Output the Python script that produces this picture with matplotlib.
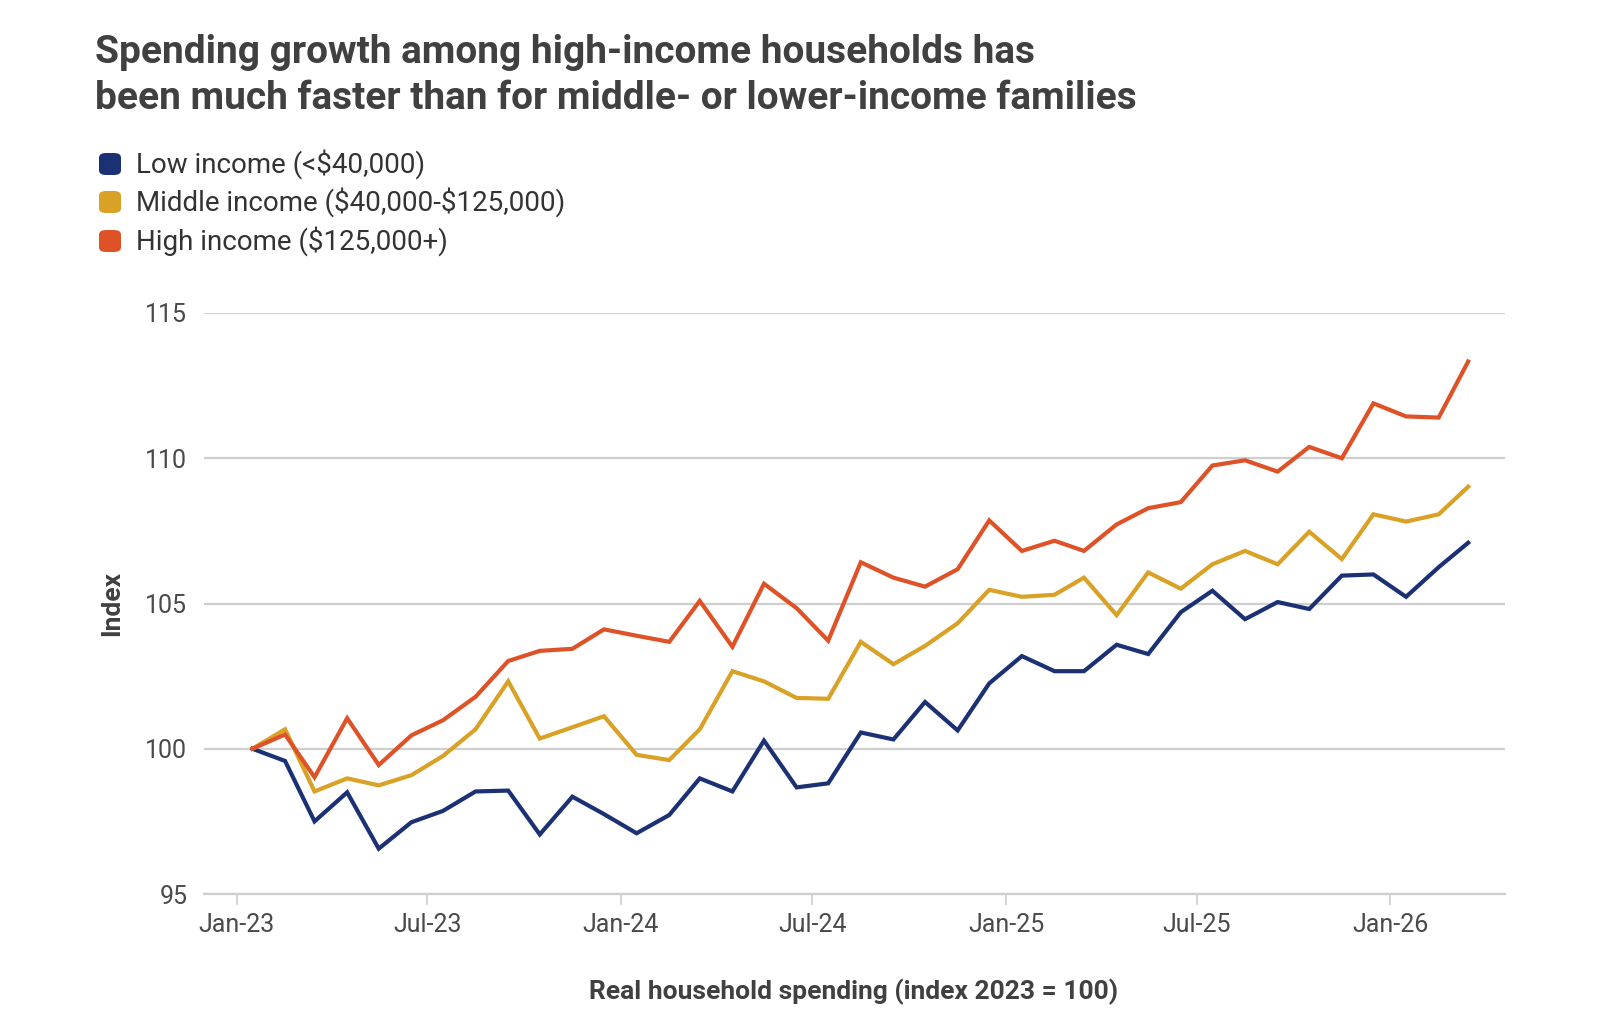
import numpy as np
import pandas as pd
import matplotlib
matplotlib.use("Agg")
import matplotlib.pyplot as plt
import matplotlib.dates as mdates
from matplotlib.patches import FancyBboxPatch

plt.rcParams['font.family'] = ['Roboto', 'DejaVu Sans']
plt.rcParams['text.parse_math'] = False

# monthly index, Jan-2023 .. Mar-2026 (2023 = 100)
dates = pd.date_range('2023-01-01', periods=39, freq='MS') + pd.Timedelta(days=15)

low_income = [100.0, 99.58, 97.5, 98.5, 96.56, 97.47, 97.86, 98.53, 98.56, 97.05,
              98.35, 97.75, 97.09, 97.72, 98.98, 98.53, 100.28, 98.67, 98.81, 100.56,
              100.32, 101.61, 100.63, 102.25, 103.19, 102.67, 102.67, 103.58, 103.26, 104.70,
              105.44, 104.46, 105.05, 104.81, 105.96, 106.0, 105.23, 106.25, 107.09]
middle_income = [100.0, 100.67, 98.53, 98.98, 98.74, 99.09, 99.75, 100.67, 102.32, 100.35,
                 100.74, 101.12, 99.79, 99.61, 100.67, 102.67, 102.32, 101.75, 101.72, 103.68,
                 102.91, 103.54, 104.32, 105.47, 105.23, 105.30, 105.89, 104.60, 106.07, 105.51,
                 106.35, 106.81, 106.35, 107.47, 106.53, 108.07, 107.82, 108.07, 109.02]
high_income = [100.0, 100.49, 99.02, 101.05, 99.44, 100.46, 100.98, 101.79, 103.02, 103.37,
               103.44, 104.11, 103.89, 103.68, 105.09, 103.51, 105.68, 104.84, 103.72, 106.42,
               105.89, 105.58, 106.18, 107.86, 106.81, 107.16, 106.81, 107.72, 108.28, 108.49,
               109.75, 109.93, 109.54, 110.39, 110.0, 111.89, 111.44, 111.40, 113.33]

series_names = ['Low income (<$40,000)', 'Middle income ($40,000-$125,000)', 'High income ($125,000+)']
colors = ['#1b3174', '#d9a125', '#de5228']

tick_dates = pd.date_range('2023-01-01', '2026-01-01', freq='6MS')
tick_labels = ['Jan-23', 'Jul-23', 'Jan-24', 'Jul-24', 'Jan-25', 'Jul-25', 'Jan-26']

W, H = 1600, 1023
fig = plt.figure(figsize=(W / 100, H / 100), dpi=100)
fig.patch.set_facecolor('white')
ax = fig.add_axes([204 / W, 1 - 894 / H, (1505 - 204) / W, (894 - 313) / H])

for vals, c in zip([low_income, middle_income, high_income], colors):
    ax.plot(dates, vals, color=c, lw=3.0, solid_joinstyle='miter', zorder=3)

ax.set_ylim(95, 115)
ax.set_yticks([95, 100, 105, 110, 115])
ax.set_xlim(pd.Timestamp('2022-12-01'), pd.Timestamp('2026-04-20'))
ax.set_xticks(tick_dates)
ax.set_xticklabels(tick_labels)

ax.grid(axis='y', color='#cfcfcf', lw=1.6, zorder=1)
ax.set_axisbelow(True)
for s in ['top', 'right', 'left']:
    ax.spines[s].set_visible(False)
ax.spines['bottom'].set_color('#cfcfcf')
ax.spines['bottom'].set_linewidth(1.6)
ax.tick_params(axis='y', length=0, pad=12, labelsize=18, labelcolor='#4a4a4a')
ax.tick_params(axis='x', length=8, width=1.2, color='#cfcfcf', pad=6,
               labelsize=18, labelcolor='#4a4a4a')

fig.text(112 / W, 1 - 603 / H, 'Index', rotation=90, ha='center', va='center',
         fontsize=19, fontweight='bold', color='#404040')
fig.text(854 / W, 1 - 992 / H, 'Real household spending (index 2023 = 100)',
         ha='center', va='center', fontsize=19, fontweight='bold', color='#404040')

# title
fig.text(95 / W, 1 - 63 / H, 'Spending growth among high-income households has',
         ha='left', va='baseline', fontsize=28, fontweight='bold', color='#404040')
fig.text(95 / W, 1 - 109 / H, 'been much faster than for middle- or lower-income families',
         ha='left', va='baseline', fontsize=28, fontweight='bold', color='#404040')

# legend
for i, (name, c) in enumerate(zip(series_names, colors)):
    yc = [164, 202, 241][i]
    sq = 22
    fig.patches.append(FancyBboxPatch(((110 - sq / 2) / W, 1 - (yc + sq / 2) / H), sq / W, sq / H,
                                      boxstyle='round,pad=0,rounding_size=0.0045',
                                      transform=fig.transFigure, facecolor=c, edgecolor='none'))
    fig.text(136 / W, 1 - yc / H, name, ha='left', va='center', fontsize=20, color='#333333')

fig.savefig('out.png', dpi=100)
